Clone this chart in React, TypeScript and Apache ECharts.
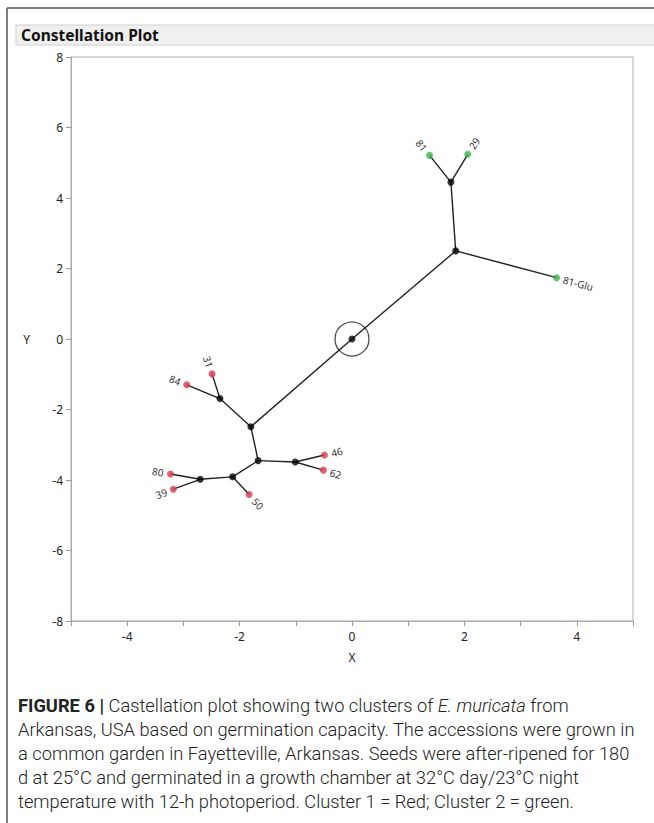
import React, { useEffect, useRef } from "react";
import * as echarts from "echarts";

// ---- data ----
const nodeNames = ["root", "A", "B", "C", "D", "E", "F", "G", "H", "81", "29", "81-Glu", "31", "84", "46", "62", "80", "39", "50"];
const nodeX = [0, 1.845, 1.76, -2.35, -1.8, -1.67, -1.01, -2.125, -2.7, 1.38, 2.06, 3.64, -2.49, -2.94, -0.49, -0.51, -3.23, -3.18, -1.83];
const nodeY = [0, 2.5, 4.45, -1.69, -2.49, -3.45, -3.49, -3.91, -3.98, 5.21, 5.24, 1.74, -0.99, -1.3, -3.29, -3.72, -3.83, -4.26, -4.41];
const parentIdx = [-1, 0, 1, 4, 0, 4, 5, 5, 7, 2, 2, 1, 3, 3, 6, 6, 8, 8, 7];
// 0 = internal node, 1 = cluster 1 (red), 2 = cluster 2 (green)
const clusterOf = [0, 0, 0, 0, 0, 0, 0, 0, 0, 2, 2, 2, 1, 1, 1, 1, 1, 1, 1];

const captionLines = [
  "{b|FIGURE 6 |} Castellation plot showing two clusters of {i|E. muricata} from",
  "Arkansas, USA based on germination capacity. The accessions were grown in",
  "a common garden in Fayetteville, Arkansas. Seeds were after-ripened for 180",
  "d at 25°C and germinated in a growth chamber at 32°C day/23°C night",
  "temperature with 12-h photoperiod. Cluster 1 = Red; Cluster 2 = green.",
];

const UI_FONT = "'Noto Sans', 'DejaVu Sans', sans-serif";
const CAP_FONT = "Roboto, 'Liberation Sans', sans-serif";
const CAP_SIZE = 18.3;

export default function App() {
  const ref = useRef<HTMLDivElement>(null);

  useEffect(() => {
    document.body.style.margin = "0";
    if (!ref.current) return;
    const chart = echarts.init(ref.current, undefined, { renderer: "svg" });

    const allIdx = nodeNames.map((_, i) => i);
    const edgeIdx = allIdx.filter((i) => parentIdx[i] >= 0);
    const leafIdx = allIdx.filter((i) => clusterOf[i] > 0);
    const pts = (c: number) => allIdx.filter((i) => clusterOf[i] === c).map((i) => [nodeX[i], nodeY[i]]);

    const graphics: any[] = [
      { type: "line", shape: { x1: 7, y1: 8, x2: 654, y2: 8 }, style: { stroke: "#555", lineWidth: 1.5 } },
      { type: "line", shape: { x1: 7, y1: 8, x2: 7, y2: 823 }, style: { stroke: "#555", lineWidth: 1.5 } },
      { type: "rect", shape: { x: 16, y: 25, width: 660, height: 20 }, style: { fill: "#f0f0f0", stroke: "#cfcfcf", lineWidth: 1 } },
      {
        type: "text",
        x: 21,
        y: 35,
        style: { text: "Constellation Plot", fontFamily: UI_FONT, fontWeight: "bold", fontSize: 15.5, fill: "#111", verticalAlign: "middle" },
      },
    ];
    captionLines.forEach((t, k) => {
      graphics.push({
        type: "text",
        x: 18,
        y: 705 + k * 24,
        style: {
          text: t,
          fontFamily: CAP_FONT,
          fontSize: CAP_SIZE,
          fontWeight: 300,
          fill: "#222",
          verticalAlign: "middle",
          rich: {
            b: { fontFamily: CAP_FONT, fontSize: CAP_SIZE, fontWeight: "bold", fill: "#222" },
            i: { fontFamily: CAP_FONT, fontSize: CAP_SIZE, fontStyle: "italic", fontWeight: 300, fill: "#222" },
          },
        },
      });
    });

    chart.setOption({
      animation: false,
      backgroundColor: "#fff",
      grid: { left: 71, top: 57, width: 562, height: 564, show: true, borderColor: "#b0b0b0", borderWidth: 1, backgroundColor: "#fff" },
      xAxis: {
        type: "value",
        min: -5,
        max: 5,
        interval: 1,
        name: "X",
        nameLocation: "middle",
        nameGap: 30,
        nameTextStyle: { fontFamily: UI_FONT, fontSize: 12, color: "#222" },
        axisLine: { show: true, onZero: false, lineStyle: { color: "#aaa" } },
        axisTick: { show: true, length: 5, lineStyle: { color: "#999" } },
        splitLine: { show: false },
        axisLabel: {
          fontFamily: UI_FONT,
          fontSize: 12,
          color: "#222",
          margin: 9,
          formatter: (v: number) => (Math.round(v) % 2 === 0 && Math.abs(v) < 5 ? String(v) : ""),
        },
      },
      yAxis: {
        type: "value",
        min: -8,
        max: 8,
        interval: 2,
        name: "Y",
        nameLocation: "middle",
        nameRotate: 0,
        nameGap: 41,
        nameTextStyle: { fontFamily: UI_FONT, fontSize: 12, color: "#222" },
        axisLine: { show: true, onZero: false, lineStyle: { color: "#aaa" } },
        axisTick: { show: true, length: 5, lineStyle: { color: "#999" } },
        splitLine: { show: false },
        axisLabel: { fontFamily: UI_FONT, fontSize: 12, color: "#222", margin: 8 },
      },
      graphic: graphics,
      series: [
        {
          type: "custom",
          data: edgeIdx.map((i) => [nodeX[i], nodeY[i], nodeX[parentIdx[i]], nodeY[parentIdx[i]]]),
          renderItem: (_p: any, api: any) => {
            const a = api.coord([api.value(0), api.value(1)]);
            const b = api.coord([api.value(2), api.value(3)]);
            return {
              type: "line",
              shape: { x1: a[0], y1: a[1], x2: b[0], y2: b[1] },
              style: { stroke: "#222", lineWidth: 1.4 },
            };
          },
          z: 1,
          silent: true,
        },
        {
          type: "scatter",
          data: [[nodeX[0], nodeY[0]]],
          symbol: "circle",
          symbolSize: 34,
          itemStyle: { color: "rgba(0,0,0,0)", borderColor: "#222", borderWidth: 1.3 },
          z: 2,
          silent: true,
        },
        { type: "scatter", data: pts(0), symbolSize: 7, itemStyle: { color: "#000" }, z: 3, silent: true },
        { type: "scatter", data: pts(1), symbolSize: 7, itemStyle: { color: "#d8394c" }, z: 3, silent: true },
        { type: "scatter", data: pts(2), symbolSize: 7, itemStyle: { color: "#3cb64a" }, z: 3, silent: true },
        {
          type: "custom",
          data: leafIdx.map((i) => [nodeX[i], nodeY[i]]),
          renderItem: (params: any, api: any) => {
            const i = leafIdx[params.dataIndex];
            const p = api.coord([nodeX[i], nodeY[i]]);
            const q = api.coord([nodeX[parentIdx[i]], nodeY[parentIdx[i]]]);
            const dx = p[0] - q[0];
            const dy = p[1] - q[1];
            const len = Math.hypot(dx, dy) || 1;
            const ux = dx / len;
            const uy = dy / len;
            const ang = Math.atan2(-dy, dx);
            const flip = Math.abs(ang) > Math.PI / 2;
            const rot = flip ? (ang > 0 ? ang - Math.PI : ang + Math.PI) : ang;
            return {
              type: "text",
              x: p[0] + ux * 7,
              y: p[1] + uy * 7,
              rotation: rot,
              style: {
                text: nodeNames[i],
                align: flip ? "right" : "left",
                verticalAlign: "middle",
                fontSize: 10,
                fontFamily: UI_FONT,
                fill: "#333",
              },
            };
          },
          z: 4,
          silent: true,
        },
      ],
    });

    return () => chart.dispose();
  }, []);

  return <div ref={ref} style={{ width: 654, height: 823 }} />;
}
